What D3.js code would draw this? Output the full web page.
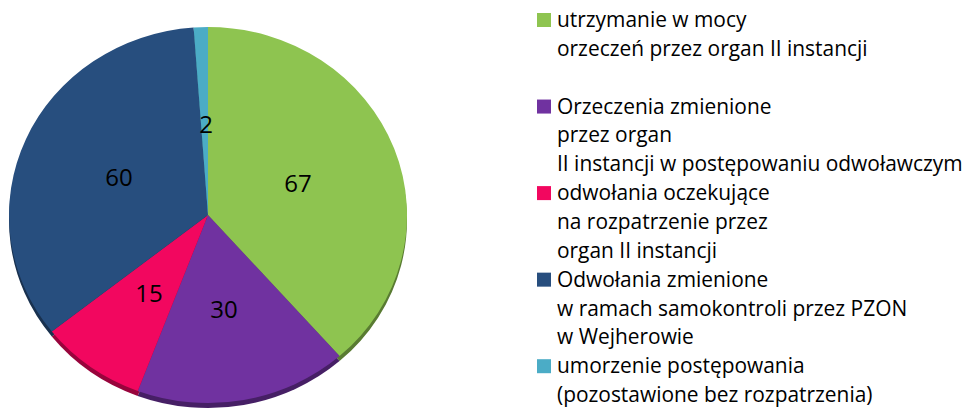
<!DOCTYPE html>
<html lang="pl">
<head>
<meta charset="UTF-8" />
<title>Odwołania</title>
<script src="https://d3js.org/d3.v7.min.js"></script>
<style>
  body { margin: 0; background: #fff; }
  text { font-family: "Open Sans", sans-serif; fill: #000; }
</style>
</head>
<body>
<svg id="chart" width="968" height="411"></svg>
<script>
// data
var categories = [
  ["utrzymanie w mocy", "orzeczeń przez organ II instancji", ""],
  ["Orzeczenia zmienione", "przez organ", "II instancji w postępowaniu odwoławczym"],
  ["odwołania oczekujące", "na rozpatrzenie przez", "organ II instancji"],
  ["Odwołania zmienione", "w ramach samokontroli przez PZON", "w Wejherowie"],
  ["umorzenie postępowania", "(pozostawione bez rozpatrzenia)"]
];
var values = [67, 30, 15, 60, 2];
var colors = ["#8ec450", "#7032a0", "#f2075f", "#274e7e", "#4bacc6"];

var svg = d3.select("#chart");
var cx = 208, cy = 215, r = 199, tilt = 0.945;

var pie = d3.pie().sort(null).value(function(d){ return d; });
var arcs = pie(values);
var arc = d3.arc().innerRadius(0).outerRadius(r);

// side of the tilted pie (a few px of depth)
var side = svg.append("g").attr("transform", "translate(" + cx + "," + (cy + 5) + ") scale(1," + tilt + ")");
side.selectAll("path")
  .data(arcs)
  .enter().append("path")
  .attr("d", arc)
  .attr("fill", function(d, i){ return d3.color(colors[i]).darker(1.3); });

var face = svg.append("g").attr("transform", "translate(" + cx + "," + cy + ") scale(1," + tilt + ")");
face.selectAll("path")
  .data(arcs)
  .enter().append("path")
  .attr("d", arc)
  .attr("fill", function(d, i){ return colors[i]; });

// value labels
var labelPos = [[298, 182], [224, 308], [149, 292], [119, 176], [206, 123]];
svg.append("g").selectAll("text")
  .data(arcs)
  .enter().append("text")
  .attr("x", function(d, i){ return labelPos[i][0]; })
  .attr("y", function(d, i){ return labelPos[i][1]; })
  .attr("text-anchor", "middle")
  .attr("dominant-baseline", "central")
  .style("font-size", "24px")
  .text(function(d){ return d.data; });

// legend
var legend = svg.append("g");
var lineH = 28.85, x0 = 537, y0 = 27;
var row = 0;
categories.forEach(function(lines, i){
  var by = y0 + row * lineH;
  legend.append("rect")
    .attr("x", x0).attr("y", by - 14)
    .attr("width", 14).attr("height", 14)
    .attr("fill", colors[i]);
  lines.forEach(function(t, j){
    if (t) legend.append("text")
      .attr("class", "lg")
      .attr("x", x0 + 20)
      .attr("y", y0 + (row + j) * lineH)
      .style("font-size", "20px")
      .text(t);
  });
  row += lines.length;
});

// widest legend line should end near the right edge, like the original
var maxW = d3.max(legend.selectAll("text.lg").nodes(), function(n){ return n.getComputedTextLength(); });
legend.selectAll("text.lg").style("font-size", (20 * 406 / maxW) + "px");
</script>
</body>
</html>
